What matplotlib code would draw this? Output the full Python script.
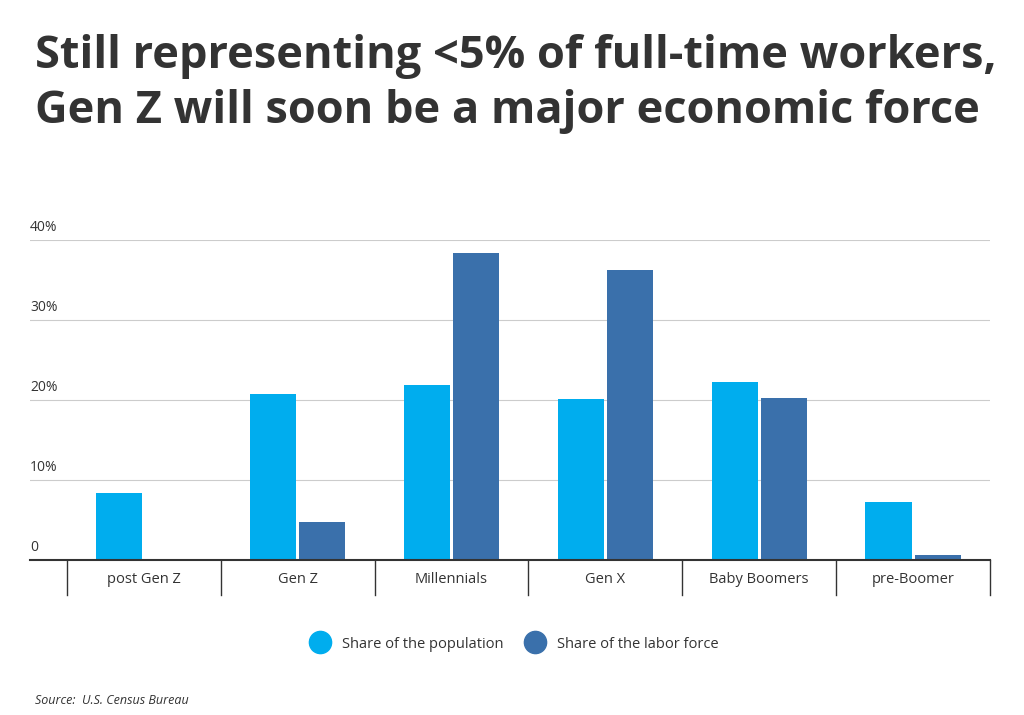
import matplotlib
matplotlib.use("Agg")
import matplotlib.pyplot as plt
import numpy as np
from matplotlib.transforms import blended_transform_factory

categories = ["post Gen Z", "Gen Z", "Millennials", "Gen X", "Baby Boomers", "pre-Boomer"]
population = [8.4, 20.8, 21.9, 20.1, 22.2, 7.3]
labor = [0.0, 4.8, 38.4, 36.3, 20.3, 0.6]
yticks = [0, 10, 20, 30, 40]
ylabels = ["0", "10%", "20%", "30%", "40%"]

c1, c2 = "#00ADEE", "#3A70AB"
fig = plt.figure(figsize=(10.24, 7.15), dpi=100)
ax = fig.add_axes([30/1024, 1-560/715, 960/1024, 320/715])
x = np.arange(len(categories))
w = 0.3
ax.bar(x - w/2 - 0.01, population, w, color=c1, label="Share of the population")
ax.bar(x + w/2 + 0.01, labor, w, color=c2, label="Share of the labor force")
ax.set_xlim(-0.74, 5.5)
ax.set_ylim(0, 40)
for s in ["top", "right", "left"]:
    ax.spines[s].set_visible(False)
ax.spines["bottom"].set_color("#333333")
ax.spines["bottom"].set_linewidth(1.5)
ax.set_yticks(yticks)
ax.set_yticklabels([])
ax.tick_params(left=False, bottom=False)
ax.grid(axis="y", color="#cccccc", lw=0.8)
ax.set_axisbelow(True)
for t, l in zip(yticks, ylabels):
    ax.text(-0.74, t + 0.6, l, fontsize=10, color="#333333", ha="left", va="bottom", family="Open Sans")
ax.set_xticks(x)
ax.set_xticklabels(categories, fontsize=10.5, color="#333333", family="Open Sans")
ax.tick_params(axis="x", pad=5)
tr = blended_transform_factory(ax.transData, ax.transAxes)
for b in np.arange(-0.5, 6, 1):
    ax.plot([b, b], [0, -35/320], transform=tr, color="#333333", lw=1, clip_on=False)

fig.text(35/1024, 1-84/715, "Still representing <5% of full-time workers,\nGen Z will soon be a major economic force",
         fontsize=32.5, fontweight="bold", color="#333333", va="center", ha="left",
         family="Open Sans", linespacing=1.3)
fig.legend(loc="center", bbox_to_anchor=(0.5, 1-644/715), ncol=2, frameon=False,
           handles=[plt.Line2D([], [], marker="o", ls="", ms=16, color=c1),
                    plt.Line2D([], [], marker="o", ls="", ms=16, color=c2)],
           labels=["Share of the population", "Share of the labor force"],
           prop={"family": "Open Sans", "size": 10.5}, labelcolor="#333333",
           handletextpad=0.5, columnspacing=1.2)
fig.text(35/1024, 1-700/715, "Source:  U.S. Census Bureau", fontsize=9, style="italic",
         color="#333333", va="center", family="Open Sans")
fig.savefig("out.png", dpi=100)
